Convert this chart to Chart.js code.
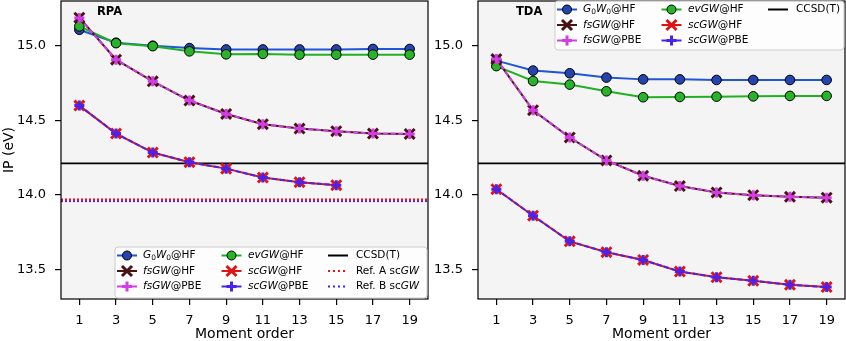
<!DOCTYPE html>
<html>
<head>
<meta charset="utf-8">
<script src="https://cdn.jsdelivr.net/npm/chart.js@4.4.1/dist/chart.umd.min.js"></script>
<style>
    body { margin: 0; background: #fff; }
    #wrap { position: relative; width: 846px; height: 341px; }
    canvas { position: absolute; top: 0; }
</style>
</head>
<body>
<div id="wrap">
    <canvas id="graficoRPA" width="430" height="341" style="left:0"></canvas>
    <canvas id="graficoTDA" width="416" height="341" style="left:430px"></canvas>
</div>
<script>
// dados
var momentos = [1, 3, 5, 7, 9, 11, 13, 15, 17, 19]
var ticksY = [13.5, 14.0, 14.5, 15.0]

var rpaG0W0 = [15.107, 15.020, 15.000, 14.984, 14.975, 14.975, 14.975, 14.975, 14.978, 14.978]
var rpaEvGW = [15.130, 15.017, 14.997, 14.962, 14.942, 14.945, 14.940, 14.940, 14.940, 14.940]
var rpaFsHF = [15.188, 14.906, 14.761, 14.632, 14.542, 14.473, 14.444, 14.426, 14.410, 14.408]
var rpaFsPBE = [15.186, 14.906, 14.761, 14.632, 14.542, 14.473, 14.444, 14.426, 14.410, 14.408]
var rpaScHF = [14.598, 14.410, 14.283, 14.218, 14.175, 14.115, 14.084, 14.064]
var rpaScPBE = [14.598, 14.410, 14.283, 14.218, 14.175, 14.115, 14.084, 14.064]

var tdaG0W0 = [14.900, 14.833, 14.815, 14.786, 14.774, 14.774, 14.770, 14.770, 14.770, 14.770]
var tdaEvGW = [14.863, 14.763, 14.739, 14.694, 14.654, 14.656, 14.658, 14.660, 14.663, 14.663]
var tdaFsHF = [14.910, 14.567, 14.384, 14.230, 14.127, 14.058, 14.015, 13.997, 13.986, 13.980]
var tdaFsPBE = [14.910, 14.567, 14.384, 14.230, 14.127, 14.058, 14.015, 13.997, 13.986, 13.980]
var tdaScHF = [14.037, 13.859, 13.687, 13.614, 13.562, 13.484, 13.446, 13.422, 13.395, 13.380]
var tdaScPBE = [14.037, 13.859, 13.687, 13.614, 13.562, 13.484, 13.446, 13.422, 13.395, 13.380]

var ccsdT = 14.21
var refA = 13.968
var refB = 13.957
var limX = [0, 20]
var limY = [13.30, 15.30]

var fonte = 'DejaVu Sans'
var cores = {
    g0w0: '#1f55d8', g0w0Fill: '#2444b0',
    ev: '#22b022', evFill: '#28b428',
    fsHF: '#4a1212', fsPBE: '#d23ee6',
    scHF: '#e01414', scPBE: '#4a22ee',
    ccsd: '#000000'
}

function pontos(valores) {
    return valores.map(function (v, i) { return { x: momentos[i], y: v } })
}
function linhaH(valor) {
    return [{ x: limX[0], y: valor }, { x: limX[1], y: valor }]
}

function criarDatasets(g0w0, ev, fsHF, fsPBE, scHF, scPBE, comRef) {
    var ds = [
        { label: 'fsGW@PBE', data: pontos(fsPBE), borderColor: cores.fsPBE, backgroundColor: cores.fsPBE,
          borderWidth: 2, borderDash: [5, 2.5], pointStyle: 'cross', pointRadius: 5, pointBorderWidth: 3, order: 1 },
        { label: 'scGW@PBE', data: pontos(scPBE), borderColor: cores.scPBE, backgroundColor: cores.scPBE,
          borderWidth: 2, borderDash: [5, 2.5], pointStyle: 'cross', pointRadius: 5, pointBorderWidth: 3, order: 1 },
        { label: 'fsGW@HF', data: pontos(fsHF), borderColor: cores.fsHF, backgroundColor: cores.fsHF,
          borderWidth: 2, pointStyle: 'crossRot', pointRadius: 7, pointBorderWidth: 3, order: 2 },
        { label: 'scGW@HF', data: pontos(scHF), borderColor: cores.scHF, backgroundColor: cores.scHF,
          borderWidth: 2, pointStyle: 'crossRot', pointRadius: 7, pointBorderWidth: 3, order: 2 },
        { label: 'evGW@HF', data: pontos(ev), borderColor: cores.ev, backgroundColor: cores.evFill,
          borderWidth: 2, pointStyle: 'circle', pointRadius: 4.8, pointBorderWidth: 1, pointBorderColor: '#000', order: 3 },
        { label: 'G0W0@HF', data: pontos(g0w0), borderColor: cores.g0w0, backgroundColor: cores.g0w0Fill,
          borderWidth: 2, pointStyle: 'circle', pointRadius: 4.8, pointBorderWidth: 1, pointBorderColor: '#000', order: 4 },
        { label: 'CCSD(T)', data: linhaH(ccsdT), borderColor: cores.ccsd, borderWidth: 1.6, pointRadius: 0, order: 6 }
    ]
    if (comRef) {
        ds.push({ label: 'Ref. A scGW', data: linhaH(refA), borderColor: cores.scHF, borderWidth: 2,
                  borderDash: [2, 2], pointRadius: 0, order: 5 })
        ds.push({ label: 'Ref. B scGW', data: linhaH(refB), borderColor: cores.scPBE, borderWidth: 2,
                  borderDash: [2, 2], pointRadius: 0, order: 5 })
    }
    return ds
}

// itens da legenda (coluna por coluna)
var itensLegenda = [
    { txt: [['G', 'i'], ['0', 's'], ['W', 'i'], ['0', 's'], ['@HF', 'n']], cor: cores.g0w0, fill: cores.g0w0Fill, m: 'o' },
    { txt: [['fsGW', 'i'], ['@HF', 'n']], cor: cores.fsHF, m: 'x' },
    { txt: [['fsGW', 'i'], ['@PBE', 'n']], cor: cores.fsPBE, m: '+' },
    { txt: [['evGW', 'i'], ['@HF', 'n']], cor: cores.ev, fill: cores.evFill, m: 'o' },
    { txt: [['scGW', 'i'], ['@HF', 'n']], cor: cores.scHF, m: 'x' },
    { txt: [['scGW', 'i'], ['@PBE', 'n']], cor: cores.scPBE, m: '+' },
    { txt: [['CCSD(T)', 'n']], cor: '#000', m: '' },
    { txt: [['Ref. A sc', 'n'], ['GW', 'i']], cor: cores.scHF, m: '', dot: true },
    { txt: [['Ref. B sc', 'n'], ['GW', 'i']], cor: cores.scPBE, m: '', dot: true }
]

function desenharMarcador(ctx, item, x, y) {
    ctx.save()
    ctx.strokeStyle = item.cor
    ctx.fillStyle = item.fill || item.cor
    if (item.m == 'o') {
        ctx.beginPath()
        ctx.arc(x, y, 4.5, 0, Math.PI * 2)
        ctx.fill()
        ctx.lineWidth = 1
        ctx.strokeStyle = '#000'
        ctx.stroke()
    } else if (item.m == 'x') {
        ctx.lineWidth = 3
        ctx.beginPath()
        ctx.moveTo(x - 5, y - 5); ctx.lineTo(x + 5, y + 5)
        ctx.moveTo(x - 5, y + 5); ctx.lineTo(x + 5, y - 5)
        ctx.stroke()
    } else if (item.m == '+') {
        ctx.lineWidth = 3
        ctx.beginPath()
        ctx.moveTo(x - 5, y); ctx.lineTo(x + 5, y)
        ctx.moveTo(x, y - 5); ctx.lineTo(x, y + 5)
        ctx.stroke()
    }
    ctx.restore()
}

function desenharTexto(ctx, partes, x, y) {
    ctx.save()
    ctx.fillStyle = '#000'
    ctx.textBaseline = 'middle'
    ctx.textAlign = 'left'
    partes.forEach(function (p) {
        var dy = 0
        if (p[1] == 'i') ctx.font = 'italic 10.5px ' + fonte
        else if (p[1] == 's') { ctx.font = '7.5px ' + fonte; dy = 2.5 }
        else ctx.font = '10.5px ' + fonte
        ctx.fillText(p[0], x, y + dy)
        x += ctx.measureText(p[0]).width
    })
    ctx.restore()
}

function desenharLegenda(ctx, caixa, n) {
    ctx.save()
    ctx.fillStyle = 'rgba(255,255,255,0.8)'
    ctx.strokeStyle = '#cccccc'
    ctx.lineWidth = 1
    ctx.beginPath()
    ctx.roundRect(caixa.x, caixa.y, caixa.w, caixa.h, 3)
    ctx.fill()
    ctx.stroke()
    ctx.restore()
    var colM = [12, 116.5, 223]
    var colT = [28, 133, 241]
    for (var i = 0; i < n; i++) {
        var item = itensLegenda[i]
        var c = Math.floor(i / 3), r = i % 3
        var cx = caixa.x + colM[c]
        var cy = caixa.y + 8.5 + r * 15.5
        ctx.save()
        ctx.strokeStyle = item.cor
        ctx.lineWidth = 2
        if (item.dot) ctx.setLineDash([2, 3])
        ctx.beginPath()
        ctx.moveTo(cx - 10, cy)
        ctx.lineTo(cx + 10, cy)
        ctx.stroke()
        ctx.restore()
        desenharMarcador(ctx, item, cx, cy)
        desenharTexto(ctx, item.txt, caixa.x + colT[c], cy)
    }
}

var pluginMoldura = {
    id: 'moldura',
    beforeDatasetsDraw: function (chart) {
        var a = chart.chartArea, ctx = chart.ctx
        ctx.save()
        ctx.fillStyle = '#f4f4f4'
        ctx.fillRect(a.left, a.top, a.right - a.left, a.bottom - a.top)
        ctx.restore()
    },
    afterDraw: function (chart, args, opts) {
        var a = chart.chartArea, ctx = chart.ctx
        ctx.save()
        ctx.strokeStyle = '#000'
        ctx.lineWidth = 1.2
        ctx.strokeRect(a.left, a.top, a.right - a.left, a.bottom - a.top)
        ctx.fillStyle = '#000'
        ctx.font = 'bold 11.5px ' + fonte
        ctx.textBaseline = 'middle'
        ctx.fillText(opts.titulo, opts.tx, 12)
        ctx.restore()
        desenharLegenda(ctx, opts.caixa, opts.n)
    }
}

function criarGrafico(ctx, datasets, larguraY, tituloY, opts) {
    return new Chart(ctx, {
        type: 'line',
        data: { datasets: datasets },
        options: {
            responsive: false,
            animation: false,
            devicePixelRatio: 1,
            layout: { autoPadding: false, padding: { top: 1, right: opts.padDir, left: 1, bottom: 0 } },
            plugins: {
                legend: { display: false },
                tooltip: { enabled: false },
                moldura: opts
            },
            scales: {
                x: {
                    type: 'linear',
                    min: limX[0],
                    max: limX[1],
                    afterBuildTicks: function (s) { s.ticks = momentos.map(function (v) { return { value: v } }) },
                    afterFit: function (s) { s.height = 42; s.paddingLeft = 0; s.paddingRight = 0 },
                    grid: { drawOnChartArea: false, drawTicks: true, tickLength: 6, color: '#000', lineWidth: 1.2 },
                    border: { display: false },
                    ticks: { color: '#000', font: { family: fonte, size: 13 }, padding: 8, maxRotation: 0, autoSkip: false },
                    title: { display: true, text: 'Moment order', color: '#000', font: { family: fonte, size: 14 },
                             padding: { top: 0, bottom: -2 } }
                },
                y: {
                    min: limY[0],
                    max: limY[1],
                    afterBuildTicks: function (s) { s.ticks = ticksY.map(function (v) { return { value: v } }) },
                    afterFit: function (s) { s.width = larguraY; s.paddingTop = 0; s.paddingBottom = 0 },
                    grid: { drawOnChartArea: false, drawTicks: true, tickLength: 6, color: '#000', lineWidth: 1.2 },
                    border: { display: false },
                    ticks: { color: '#000', font: { family: fonte, size: 13 }, padding: 9,
                             callback: function (v) { return v.toFixed(1) } },
                    title: { display: tituloY != '', text: tituloY, color: '#000', font: { family: fonte, size: 14 },
                             padding: { top: 0, bottom: 0 } }
                }
            }
        },
        plugins: [pluginMoldura]
    })
}

var ctx = document.getElementById('graficoRPA')
graficoRPA = criarGrafico(ctx, criarDatasets(rpaG0W0, rpaEvGW, rpaFsHF, rpaFsPBE, rpaScHF, rpaScPBE, true), 60, 'IP (eV)',
    { titulo: 'RPA', tx: 97, padDir: 2, caixa: { x: 115, y: 247, w: 312, h: 51 }, n: 9 })

var ctx2 = document.getElementById('graficoTDA')
graficoTDA = criarGrafico(ctx2, criarDatasets(tdaG0W0, tdaEvGW, tdaFsHF, tdaFsPBE, tdaScHF, tdaScPBE, false), 47, '',
    { titulo: 'TDA', tx: 86, padDir: 1, caixa: { x: 125, y: 1, w: 289, h: 49 }, n: 7 })
</script>
</body>
</html>
